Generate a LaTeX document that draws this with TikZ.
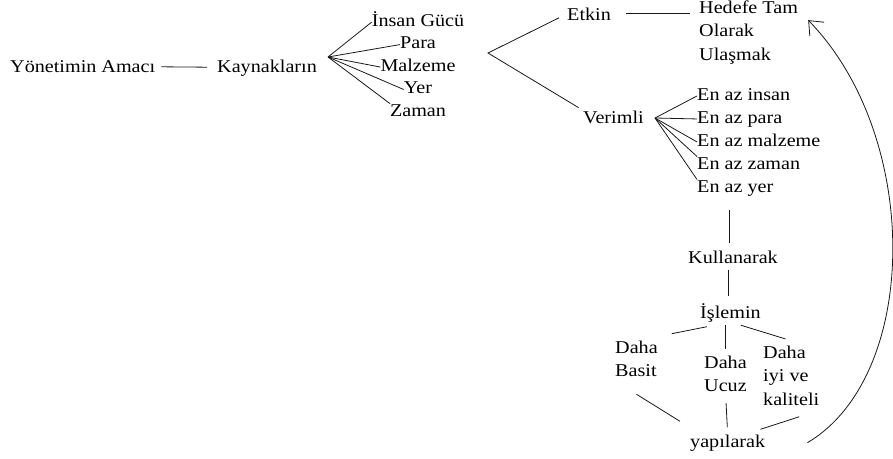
\documentclass[tikz,border=0pt]{standalone}
\usepackage{fontspec}
\setmainfont{Liberation Serif}[FakeStretch=1.12]
\usetikzlibrary{arrows.meta}

\begin{document}
\begin{tikzpicture}
[x=1pt, y=-1pt,
 every node/.style={inner sep=0pt, font=\fontsize{18}{23.5}\selectfont},
 lbl/.style={text height=12.5pt, text depth=4pt},
 link/.style={line width=0.8pt, draw=black!90},
 back/.style={link, -{Straight Barb[length=12pt,width=20pt]}}]
\useasboundingbox (0,0) rectangle (893,458);
\node[anchor=base west] (goal) at (10,72) {Yönetimin Amacı};
\node[anchor=base west] (kay) at (217,72) {Kaynakların};
\matrix [row sep=5.75pt, nodes={lbl}, anchor=north] (kaynak) at (418,13.5)
{\node (ins) {İnsan Gücü}; \\
\node (para) {Para}; \\
\node (malz) {Malzeme}; \\
\node (yer) {Yer}; \\
\node (zam) {Zaman}; \\
};
\node[anchor=base west] (etk) at (567,20) {Etkin};
\node[anchor=north west, align=left] (hed) at (699,0.2) {Hedefe Tam\\Olarak\\Ulaşmak};
\node[anchor=base west] (ver) at (583,123) {Verimli};
\matrix [row sep=6.5pt, nodes={lbl, anchor=west}, anchor=north west] (enaz) at (697,87.5)
{\node (en1) {En az insan}; \\
\node (en2) {En az para}; \\
\node (en3) {En az malzeme}; \\
\node (en4) {En az zaman}; \\
\node (en5) {En az yer}; \\
};
\node[anchor=base west] (kul) at (688,263) {Kullanarak};
\node[anchor=base west] (isl) at (700,318) {İşlemin};
\node[anchor=north west, align=left] (bas) at (615,340.7) {Daha\\Basit};
\node[anchor=north west, align=left] (ucz) at (704,355.7) {Daha\\Ucuz};
\node[anchor=north west, align=left] (iyi) at (763,345.7) {Daha\\iyi ve\\kaliteli};
\node[anchor=base west] (yap) at (690,447) {yapılarak};
\coordinate (kf) at (328,57);
\coordinate (vf) at (488,53);
\coordinate (vm) at (655,118);
\draw[link, shorten <=6pt, shorten >=10pt] (goal) -- (kay);
\draw[link] (kf) -- (ins.west);
\draw[link] (kf) -- (para.west);
\draw[link] (kf) -- (malz.west);
\draw[link] (kf) -- (yer.west);
\draw[link] (kf) -- (zam.north west);
\draw[link, shorten <=9pt, shorten >=5pt] (etk.west) -- (vf) -- (ver.north west);
\draw[link, shorten <=15pt, shorten >=9pt] (etk.east) -- (etk.east -| hed.west);
\draw[link] (vm) -- (en1.west);
\draw[link] (vm) -- (en2.west);
\draw[link] (vm) -- (en3.west);
\draw[link] (vm) -- (en4.north west);
\draw[link] (vm) -- (en5.north west);
\draw[link, shorten <=7pt, shorten >=14pt] ([xshift=-4pt]kul.north) -- ([xshift=-4pt]kul.north |- en5.south);
\draw[link, shorten <=7pt, shorten >=7pt] ([xshift=-5pt]kul.south) -- ([xshift=-5pt]kul.south |- isl.north);
\draw[link, shorten <=24pt, shorten >=36pt] (isl.south) -- (bas.north);
\draw[link, shorten <=3pt, shorten >=7pt] (ucz.north |- isl.south) -- (ucz.north);
\draw[link, shorten <=11pt, shorten >=6pt] (isl.south) -- ([yshift=5pt]iyi.north);
\draw[link] ([yshift=-17pt]bas.south) -- ([shift={(-10pt,13pt)}]yap.north west);
\draw[link, shorten <=11pt, shorten >=7pt] (ucz.south) -- (yap.north);
\draw[link] ([shift={(8pt,-11pt)}]iyi.south) -- ([shift={(-5pt,5pt)}]yap.north east);
\draw[back] ([xshift=42pt]yap.east) .. controls (920,376) and (922,137) .. ([shift={(10pt,12pt)}]hed.east);
\end{tikzpicture}
\end{document}
